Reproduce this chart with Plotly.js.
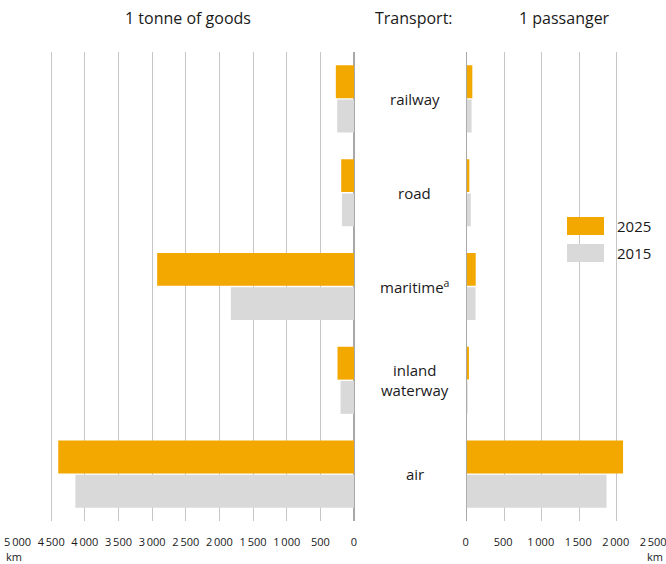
<!DOCTYPE html>
<html>
<head>
<meta charset="utf-8">
<script src="https://cdn.plot.ly/plotly-3.0.1.min.js"></script>
<style>html,body{margin:0;padding:0;background:#fff;}#chart{width:666px;height:564px;}</style>
</head>
<body>
<div id="chart"></div>
<script>
const categories = ['railway', 'road', 'maritime', 'inland waterway', 'air'];
const categoryLabels = ['railway', 'road', 'maritime<sup>a</sup>', 'inland<br>waterway', 'air'];
const seriesNames = ['2025', '2015'];
const goods2025 = [270, 190, 2925, 245, 4395];
const goods2015 = [250, 180, 1830, 200, 4140];
const passenger2025 = [75, 35, 120, 30, 2085];
const passenger2015 = [65, 55, 118, 13, 1865];
const goodsTicks = [5000, 4500, 4000, 3500, 3000, 2500, 2000, 1500, 1000, 500, 0];
const goodsTickText = ['5\u2009000', '4\u2009500', '4\u2009000', '3\u2009500', '3\u2009000', '2\u2009500', '2\u2009000', '1\u2009500', '1\u2009000', '500', '0'];
const passTicks = [0, 500, 1000, 1500, 2000, 2500];
const passTickText = ['0', '500', '1\u2009000', '1\u2009500', '2\u2009000', '2\u2009500'];

const ORANGE = '#F3A800';
const GREY = '#D9D9D9';
const FONT = 'Open Sans, Noto Sans, sans-serif';
const TXT = '#1a1a1a';

function bar(x, name, color, xa) {
  return {
    type: 'bar', orientation: 'h', x: x, y: categories, name: name,
    xaxis: xa, yaxis: 'y', marker: {color: color, line: {width: 0}},
    showlegend: false, hoverinfo: 'x+name'
  };
}

const data = [
  bar(goods2025, seriesNames[0], ORANGE, 'x'),
  bar(goods2015, seriesNames[1], GREY, 'x'),
  bar(passenger2025, seriesNames[0], ORANGE, 'x2'),
  bar(passenger2015, seriesNames[1], GREY, 'x2')
];

const axisCommon = {
  showgrid: true, gridcolor: '#c6c6c6', gridwidth: 1,
  zeroline: true, zerolinecolor: '#a8a8a8', zerolinewidth: 1.5,
  showline: false, ticks: '', tickmode: 'array',
  tickfont: {family: FONT, size: 11, color: TXT},
  ticklabelstandoff: 13, ticklabeloverflow: 'allow', fixedrange: true
};

const titleFont = {family: FONT, size: 16, color: TXT};
const annotations = categories.map((c, i) => ({
  xref: 'paper', yref: 'y', x: 0.623, y: c, xanchor: 'center', text: categoryLabels[i],
  showarrow: false, font: {family: FONT, size: 15, color: TXT}, align: 'center'
}));
annotations.push(
  {xref: 'paper', yref: 'paper', x: 188 / 666, y: (564 - 18) / 564, xanchor: 'center', yanchor: 'middle', text: '1 tonne of goods', showarrow: false, font: titleFont},
  {xref: 'paper', yref: 'paper', x: 414 / 666, y: (564 - 18) / 564, xanchor: 'center', yanchor: 'middle', text: 'Transport:', showarrow: false, font: titleFont},
  {xref: 'paper', yref: 'paper', x: 564 / 666, y: (564 - 18) / 564, xanchor: 'center', yanchor: 'middle', text: '1 passanger', showarrow: false, font: titleFont},
  {xref: 'paper', yref: 'paper', x: 13.5 / 666, y: (564 - 556) / 564, xanchor: 'center', yanchor: 'middle', borderpad: 0, text: 'km', showarrow: false, font: {family: FONT, size: 11, color: TXT}},
  {xref: 'paper', yref: 'paper', x: 655 / 666, y: (564 - 556) / 564, xanchor: 'center', yanchor: 'middle', borderpad: 0, text: 'km', showarrow: false, font: {family: FONT, size: 11, color: TXT}},
  {xref: 'paper', yref: 'paper', x: 615 / 666, y: (564 - 226) / 564, xanchor: 'left', yanchor: 'middle', text: seriesNames[0], showarrow: false, font: {family: FONT, size: 15, color: TXT}},
  {xref: 'paper', yref: 'paper', x: 615 / 666, y: (564 - 253) / 564, xanchor: 'left', yanchor: 'middle', text: seriesNames[1], showarrow: false, font: {family: FONT, size: 15, color: TXT}}
);

const layout = {
  width: 666, height: 564,
  margin: {l: 0, r: 0, t: 0, b: 0},
  paper_bgcolor: '#fff', plot_bgcolor: 'rgba(0,0,0,0)',
  barmode: 'group', bargap: 0.27, bargroupgap: 0.04,
  xaxis: Object.assign({}, axisCommon, {
    domain: [17.5 / 666, 354 / 666], range: [5000.5, 0],
    tickvals: goodsTicks, ticktext: goodsTickText, anchor: 'y'
  }),
  xaxis2: Object.assign({}, axisCommon, {
    domain: [466.7 / 666, 654.2 / 666], range: [0, 2500.5],
    tickvals: passTicks, ticktext: passTickText, anchor: 'y', ticklabelshift: -1
  }),
  yaxis: {
    domain: [43 / 564, 512 / 564], autorange: 'reversed', type: 'category',
    showticklabels: false, showgrid: false, zeroline: false, ticks: '', fixedrange: true
  },
  shapes: [
    {type: 'rect', xref: 'paper', yref: 'paper', x0: 567 / 666, x1: 604 / 666, y0: (564 - 235) / 564, y1: (564 - 217) / 564, fillcolor: ORANGE, line: {width: 0}},
    {type: 'rect', xref: 'paper', yref: 'paper', x0: 567 / 666, x1: 604 / 666, y0: (564 - 262) / 564, y1: (564 - 244) / 564, fillcolor: GREY, line: {width: 0}}
  ],
  annotations: annotations,
  font: {family: FONT, color: TXT}
};

Plotly.newPlot('chart', data, layout, {displayModeBar: false, staticPlot: true});
</script>
</body>
</html>
